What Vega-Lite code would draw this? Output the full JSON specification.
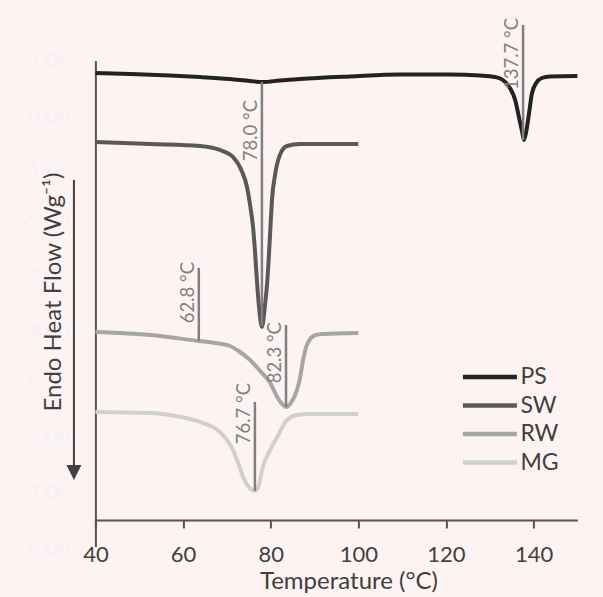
{
  "$schema": "https://vega.github.io/schema/vega-lite/v6.json",
  "width": 482,
  "height": 486,
  "autosize": {"type": "none"},
  "padding": {"left": 95.4, "top": 60.5, "right": 25.6, "bottom": 50.5},
  "background": "#fdf3f2",
  "config": {"view": {"stroke": null}, "font": "Lato"},
  "datasets": {
    "curves": [
      {"s":"PS","T":40,"Y":0.769},{"s":"PS","T":47.9,"Y":0.75},{"s":"PS","T":57.0,"Y":0.722},{"s":"PS","T":63.9,"Y":0.694},{"s":"PS","T":70.7,"Y":0.657},{"s":"PS","T":75.3,"Y":0.62},{"s":"PS","T":78.3,"Y":0.602},{"s":"PS","T":82.1,"Y":0.63},{"s":"PS","T":86.7,"Y":0.657},{"s":"PS","T":98.1,"Y":0.704},{"s":"PS","T":109.5,"Y":0.741},{"s":"PS","T":120.9,"Y":0.741},{"s":"PS","T":127.8,"Y":0.722},{"s":"PS","T":131.2,"Y":0.694},{"s":"PS","T":133.0,"Y":0.639},{"s":"PS","T":134.6,"Y":0.49},{"s":"PS","T":135.8,"Y":0.269},{"s":"PS","T":136.7,"Y":-0.065},{"s":"PS","T":137.4,"Y":-0.324},{"s":"PS","T":137.8,"Y":-0.472},{"s":"PS","T":138.3,"Y":-0.324},{"s":"PS","T":139.0,"Y":0.046},{"s":"PS","T":139.6,"Y":0.38},{"s":"PS","T":140.6,"Y":0.583},{"s":"PS","T":141.9,"Y":0.676},{"s":"PS","T":143.7,"Y":0.704},{"s":"PS","T":150,"Y":0.713},
      {"s":"SW","T":40,"Y":-0.509},{"s":"SW","T":52.5,"Y":-0.546},{"s":"SW","T":63.9,"Y":-0.583},{"s":"SW","T":68.4,"Y":-0.657},{"s":"SW","T":71.4,"Y":-0.787},{"s":"SW","T":73.5,"Y":-1.065},{"s":"SW","T":74.6,"Y":-1.343},{"s":"SW","T":75.3,"Y":-1.676},{"s":"SW","T":76.0,"Y":-2.102},{"s":"SW","T":76.4,"Y":-2.509},{"s":"SW","T":76.9,"Y":-3.12},{"s":"SW","T":77.3,"Y":-3.528},{"s":"SW","T":78.0,"Y":-3.935},{"s":"SW","T":78.7,"Y":-3.528},{"s":"SW","T":79.2,"Y":-3.12},{"s":"SW","T":79.6,"Y":-2.602},{"s":"SW","T":80.1,"Y":-1.861},{"s":"SW","T":80.3,"Y":-1.583},{"s":"SW","T":81.0,"Y":-1.12},{"s":"SW","T":82.1,"Y":-0.75},{"s":"SW","T":83.7,"Y":-0.583},{"s":"SW","T":86.7,"Y":-0.546},{"s":"SW","T":100,"Y":-0.546},
      {"s":"RW","T":40,"Y":-4.028},{"s":"RW","T":52.5,"Y":-4.083},{"s":"RW","T":63.6,"Y":-4.194},{"s":"RW","T":67.3,"Y":-4.231},{"s":"RW","T":70.7,"Y":-4.287},{"s":"RW","T":73.0,"Y":-4.398},{"s":"RW","T":75.3,"Y":-4.546},{"s":"RW","T":77.6,"Y":-4.75},{"s":"RW","T":79.9,"Y":-4.972},{"s":"RW","T":81.5,"Y":-5.231},{"s":"RW","T":82.6,"Y":-5.361},{"s":"RW","T":83.5,"Y":-5.417},{"s":"RW","T":84.6,"Y":-5.343},{"s":"RW","T":86.0,"Y":-5.102},{"s":"RW","T":86.7,"Y":-4.88},{"s":"RW","T":87.4,"Y":-4.546},{"s":"RW","T":88.1,"Y":-4.306},{"s":"RW","T":89.0,"Y":-4.157},{"s":"RW","T":90.3,"Y":-4.083},{"s":"RW","T":91.9,"Y":-4.065},{"s":"RW","T":100,"Y":-4.046},
      {"s":"MG","T":40,"Y":-5.509},{"s":"MG","T":52.5,"Y":-5.528},{"s":"MG","T":58.2,"Y":-5.583},{"s":"MG","T":63.9,"Y":-5.694},{"s":"MG","T":68.4,"Y":-5.88},{"s":"MG","T":71.4,"Y":-6.213},{"s":"MG","T":72.5,"Y":-6.435},{"s":"MG","T":73.7,"Y":-6.713},{"s":"MG","T":75.0,"Y":-6.898},{"s":"MG","T":76.4,"Y":-6.972},{"s":"MG","T":77.3,"Y":-6.861},{"s":"MG","T":78.2,"Y":-6.528},{"s":"MG","T":79.9,"Y":-6.213},{"s":"MG","T":81.5,"Y":-5.972},{"s":"MG","T":83.7,"Y":-5.657},{"s":"MG","T":86.0,"Y":-5.565},{"s":"MG","T":89.0,"Y":-5.546},{"s":"MG","T":100,"Y":-5.546}
    ],
    "annots": [
      {"T":137.6,"Y":1.657,"Y2":-0.472,"LY":1.787,"label":"137.7 °C"},
      {"T":78.0,"Y":0.602,"Y2":-3.917,"LY":0.269,"label":"78.0 °C"},
      {"T":63.6,"Y":-2.843,"Y2":-4.194,"LY":-2.731,"label":"62.8 °C"},
      {"T":83.5,"Y":-3.898,"Y2":-5.417,"LY":-3.843,"label":"82.3 °C"},
      {"T":76.4,"Y":-5.324,"Y2":-6.972,"LY":-4.972,"label":"76.7 °C"}
    ],
    "arrow": [{"T":35.1,"Y":-1.213,"Y2":-6.52,"TY":-6.63}]
  },
  "layer": [
    {
      "data": {"name": "curves"},
      "mark": {"type": "line", "strokeWidth": 4, "interpolate": "monotone"},
      "encoding": {
        "x": {
          "field": "T", "type": "quantitative",
          "scale": {"domain": [40, 150], "nice": false, "zero": false},
          "axis": {
            "title": "Temperature (°C)", "values": [40, 60, 80, 100, 120, 140],
            "grid": false, "offset": -26.5,
            "domainColor": "#555555", "domainWidth": 2,
            "tickColor": "#555555", "tickWidth": 2, "tickSize": 8,
            "labelFontSize": 22, "labelColor": "#404040", "labelPadding": 16, "labelFlush": false,
            "titleFontSize": 24, "titleFontWeight": "normal", "titleColor": "#404040",
            "titleX": 253, "titleY": 68, "titleBaseline": "alphabetic", "titleAlign": "center"
          }
        },
        "y": {
          "field": "Y", "type": "quantitative",
          "scale": {"domain": [-8, 1], "nice": false, "zero": false},
          "axis": {
            "title": "Endo Heat Flow (Wg⁻¹)", "values": [1, 0, -1, -2, -3, -4, -5, -6, -7, -8],
            "format": ".2f", "grid": false, "ticks": false,
            "domainColor": "#555555", "domainWidth": 2,
            "labelFontSize": 22, "labelColor": "#f4f1f6", "labelPadding": 25,
            "titleFontSize": 24, "titleFontWeight": "normal", "titleColor": "#404040",
            "titleAngle": 270, "titleX": -35, "titleY": 231, "titleBaseline": "alphabetic", "titleAlign": "center"
          }
        },
        "color": {
          "field": "s", "type": "nominal",
          "scale": {"domain": ["PS", "SW", "RW", "MG"], "range": ["#222222", "#595959", "#a6a6a6", "#d0d0d0"]},
          "legend": {
            "title": null, "orient": "none", "legendX": 365, "legendY": 303.5,
            "symbolType": "stroke", "symbolSize": 2916, "symbolStrokeWidth": 4.5,
            "labelFontSize": 23, "labelColor": "#404040", "labelOffset": 1,
            "clipHeight": 26, "rowPadding": 2.5
          }
        }
      }
    },
    {
      "data": {"name": "annots"},
      "mark": {"type": "rule", "color": "#808080", "strokeWidth": 2.5},
      "encoding": {
        "x": {"field": "T", "type": "quantitative"},
        "y": {"field": "Y", "type": "quantitative"},
        "y2": {"field": "Y2"}
      }
    },
    {
      "data": {"name": "annots"},
      "mark": {"type": "text", "angle": 270, "align": "right", "baseline": "alphabetic", "dy": -5, "fontSize": 18.5, "color": "#808080", "font": "Lato"},
      "encoding": {
        "x": {"field": "T", "type": "quantitative"},
        "y": {"field": "LY", "type": "quantitative"},
        "text": {"field": "label"}
      }
    },
    {
      "data": {"name": "arrow"},
      "mark": {"type": "rule", "color": "#404040", "strokeWidth": 2},
      "encoding": {
        "x": {"field": "T", "type": "quantitative"},
        "y": {"field": "Y", "type": "quantitative"},
        "y2": {"field": "Y2"}
      }
    },
    {
      "data": {"name": "arrow"},
      "mark": {"type": "point", "shape": "M-1,-1L1,-1L0,1Z", "filled": true, "size": 225, "color": "#404040", "opacity": 1},
      "encoding": {
        "x": {"field": "T", "type": "quantitative"},
        "y": {"field": "TY", "type": "quantitative"}
      }
    }
  ]
}
